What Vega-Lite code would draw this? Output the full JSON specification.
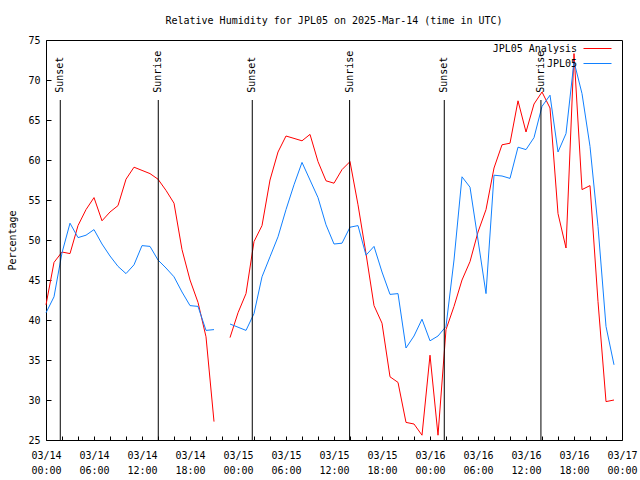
{
  "$schema": "https://vega.github.io/schema/vega-lite/v6.json",
  "width": 576,
  "height": 400,
  "autosize": {"type": "none"},
  "padding": {"left": 46, "top": 40, "right": 18, "bottom": 40},
  "background": "white",
  "config": {
    "font": "DejaVu Sans Mono",
    "view": {"stroke": "black", "strokeWidth": 1},
    "axis": {
      "labelFont": "DejaVu Sans Mono", "labelFontSize": 10, "labelColor": "black",
      "titleFont": "DejaVu Sans Mono", "titleFontSize": 10, "titleFontWeight": "normal", "titleColor": "black",
      "domain": false, "grid": false, "tickColor": "black", "tickWidth": 1, "labelOverlap": false
    }
  },
  "title": {"text": "Relative Humidity for JPL05 on 2025-Mar-14 (time in UTC)", "font": "DejaVu Sans Mono", "fontSize": 10, "fontWeight": "normal", "color": "black", "offset": 9},
  "datasets": {
    "hum": [
      {"t": "2025-03-14T00:00:00Z", "a": 41.9, "o": 40.9},
      {"t": "2025-03-14T01:00:00Z", "a": 47.2, "o": 42.9},
      {"t": "2025-03-14T02:00:00Z", "a": 48.5, "o": 48.4},
      {"t": "2025-03-14T03:00:00Z", "a": 48.3, "o": 52.1},
      {"t": "2025-03-14T04:00:00Z", "a": 51.8, "o": 50.3},
      {"t": "2025-03-14T05:00:00Z", "a": 53.8, "o": 50.6},
      {"t": "2025-03-14T06:00:00Z", "a": 55.3, "o": 51.3},
      {"t": "2025-03-14T07:00:00Z", "a": 52.4, "o": 49.5},
      {"t": "2025-03-14T08:00:00Z", "a": 53.5, "o": 48.0},
      {"t": "2025-03-14T09:00:00Z", "a": 54.3, "o": 46.7},
      {"t": "2025-03-14T10:00:00Z", "a": 57.6, "o": 45.8},
      {"t": "2025-03-14T11:00:00Z", "a": 59.1, "o": 46.9},
      {"t": "2025-03-14T12:00:00Z", "a": 58.7, "o": 49.3},
      {"t": "2025-03-14T13:00:00Z", "a": 58.3, "o": 49.2},
      {"t": "2025-03-14T14:00:00Z", "a": 57.6, "o": 47.5},
      {"t": "2025-03-14T15:00:00Z", "a": 56.2, "o": 46.5},
      {"t": "2025-03-14T16:00:00Z", "a": 54.6, "o": 45.4},
      {"t": "2025-03-14T17:00:00Z", "a": 48.8, "o": 43.5},
      {"t": "2025-03-14T18:00:00Z", "a": 45.0, "o": 41.8},
      {"t": "2025-03-14T19:00:00Z", "a": 42.2, "o": 41.7},
      {"t": "2025-03-14T20:00:00Z", "a": 37.9, "o": 38.7},
      {"t": "2025-03-14T21:00:00Z", "a": 27.3, "o": 38.8},
      {"t": "2025-03-14T22:00:00Z", "a": null, "o": null},
      {"t": "2025-03-14T23:00:00Z", "a": 37.8, "o": 39.5},
      {"t": "2025-03-15T00:00:00Z", "a": 40.9, "o": 39.1},
      {"t": "2025-03-15T01:00:00Z", "a": 43.3, "o": 38.7},
      {"t": "2025-03-15T02:00:00Z", "a": 49.8, "o": 40.8},
      {"t": "2025-03-15T03:00:00Z", "a": 51.8, "o": 45.4},
      {"t": "2025-03-15T04:00:00Z", "a": 57.5, "o": 47.9},
      {"t": "2025-03-15T05:00:00Z", "a": 61.0, "o": 50.4},
      {"t": "2025-03-15T06:00:00Z", "a": 63.0, "o": 53.8},
      {"t": "2025-03-15T07:00:00Z", "a": 62.7, "o": 56.9},
      {"t": "2025-03-15T08:00:00Z", "a": 62.4, "o": 59.7},
      {"t": "2025-03-15T09:00:00Z", "a": 63.2, "o": 57.5},
      {"t": "2025-03-15T10:00:00Z", "a": 59.8, "o": 55.3},
      {"t": "2025-03-15T11:00:00Z", "a": 57.4, "o": 51.9},
      {"t": "2025-03-15T12:00:00Z", "a": 57.1, "o": 49.5},
      {"t": "2025-03-15T13:00:00Z", "a": 58.8, "o": 49.6},
      {"t": "2025-03-15T14:00:00Z", "a": 59.8, "o": 51.6},
      {"t": "2025-03-15T15:00:00Z", "a": 54.4, "o": 51.8},
      {"t": "2025-03-15T16:00:00Z", "a": 48.3, "o": 48.1},
      {"t": "2025-03-15T17:00:00Z", "a": 41.8, "o": 49.2},
      {"t": "2025-03-15T18:00:00Z", "a": 39.6, "o": 46.0},
      {"t": "2025-03-15T19:00:00Z", "a": 32.9, "o": 43.2},
      {"t": "2025-03-15T20:00:00Z", "a": 32.2, "o": 43.3},
      {"t": "2025-03-15T21:00:00Z", "a": 27.2, "o": 36.5},
      {"t": "2025-03-15T22:00:00Z", "a": 27.0, "o": 38.0},
      {"t": "2025-03-15T23:00:00Z", "a": 25.6, "o": 40.1},
      {"t": "2025-03-16T00:00:00Z", "a": 35.6, "o": 37.4},
      {"t": "2025-03-16T01:00:00Z", "a": 25.6, "o": 38.0},
      {"t": "2025-03-16T02:00:00Z", "a": 38.8, "o": 39.2},
      {"t": "2025-03-16T03:00:00Z", "a": 41.7, "o": 47.5},
      {"t": "2025-03-16T04:00:00Z", "a": 45.0, "o": 57.9},
      {"t": "2025-03-16T05:00:00Z", "a": 47.3, "o": 56.6},
      {"t": "2025-03-16T06:00:00Z", "a": 51.0, "o": 50.0},
      {"t": "2025-03-16T07:00:00Z", "a": 53.8, "o": 43.3},
      {"t": "2025-03-16T08:00:00Z", "a": 59.0, "o": 58.1},
      {"t": "2025-03-16T09:00:00Z", "a": 61.9, "o": 58.0},
      {"t": "2025-03-16T10:00:00Z", "a": 62.1, "o": 57.7},
      {"t": "2025-03-16T11:00:00Z", "a": 67.4, "o": 61.6},
      {"t": "2025-03-16T12:00:00Z", "a": 63.5, "o": 61.3},
      {"t": "2025-03-16T13:00:00Z", "a": 67.0, "o": 62.8},
      {"t": "2025-03-16T14:00:00Z", "a": 68.5, "o": 66.7},
      {"t": "2025-03-16T15:00:00Z", "a": 66.5, "o": 68.1},
      {"t": "2025-03-16T16:00:00Z", "a": 53.3, "o": 61.0},
      {"t": "2025-03-16T17:00:00Z", "a": 49.0, "o": 63.3},
      {"t": "2025-03-16T18:00:00Z", "a": 73.3, "o": 72.3},
      {"t": "2025-03-16T19:00:00Z", "a": 56.3, "o": 68.3},
      {"t": "2025-03-16T20:00:00Z", "a": 56.8, "o": 61.7},
      {"t": "2025-03-16T21:00:00Z", "a": 42.3, "o": 51.7},
      {"t": "2025-03-16T22:00:00Z", "a": 29.8, "o": 39.2},
      {"t": "2025-03-16T23:00:00Z", "a": 30.0, "o": 34.4}
    ],
    "sun": [
      {"t": "2025-03-14T01:47:00Z", "label": "Sunset"},
      {"t": "2025-03-14T14:02:00Z", "label": "Sunrise"},
      {"t": "2025-03-15T01:47:00Z", "label": "Sunset"},
      {"t": "2025-03-15T13:57:00Z", "label": "Sunrise"},
      {"t": "2025-03-16T01:47:00Z", "label": "Sunset"},
      {"t": "2025-03-16T13:52:00Z", "label": "Sunrise"}
    ]
  },
  "encoding": {
    "x": {
      "field": "t", "type": "temporal",
      "scale": {"type": "utc", "domain": [1741910400000, 1742169600000], "nice": false},
      "axis": {
        "title": null,
        "values": [1741910400000, 1741917600000, 1741924800000, 1741932000000, 1741939200000, 1741946400000, 1741953600000, 1741960800000, 1741968000000, 1741975200000, 1741982400000, 1741989600000, 1741996800000, 1742004000000, 1742011200000, 1742018400000, 1742025600000, 1742032800000, 1742040000000, 1742047200000, 1742054400000, 1742061600000, 1742068800000, 1742076000000, 1742083200000, 1742090400000, 1742097600000, 1742104800000, 1742112000000, 1742119200000, 1742126400000, 1742133600000, 1742140800000, 1742148000000, 1742155200000, 1742162400000, 1742169600000],
        "tickSize": -4, "labelPadding": 14, "labelOverlap": false, "labelFlush": false, "labelBound": false,
        "labelLineHeight": 15,
        "labelExpr": "utchours(datum.value) % 6 == 0 ? [utcFormat(datum.value, '%m/%d'), utcFormat(datum.value, '%H:%M')] : ''"
      }
    }
  },
  "layer": [
    {
      "data": {"name": "hum"},
      "transform": [
        {"fold": ["a", "o"], "as": ["key", "value"]},
        {"lookup": "key", "from": {"data": {"values": [{"key": "a", "series": "JPL05 Analysis"}, {"key": "o", "series": "JPL05"}]}, "key": "key", "fields": ["series"]}}
      ],
      "mark": {"type": "line", "strokeWidth": 1},
      "encoding": {
        "y": {
          "field": "value", "type": "quantitative",
          "scale": {"domain": [25, 75], "nice": false, "zero": false},
          "axis": {
            "title": "Percentage",
            "values": [25, 30, 35, 40, 45, 50, 55, 60, 65, 70, 75],
            "tickSize": -5, "labelPadding": 11, "titlePadding": 10, "labelOverlap": false
          }
        },
        "color": {
          "field": "series", "type": "nominal",
          "scale": {"domain": ["JPL05 Analysis", "JPL05"], "range": ["#ff0000", "#1080ff"]},
          "legend": {
            "title": null, "orient": "none", "legendX": 544, "legendY": 1,
            "padding": 0, "symbolType": "M-2,0H2", "symbolSize": 196, "symbolStrokeWidth": 1,
            "labelFont": "DejaVu Sans Mono", "labelFontSize": 10, "labelColor": "black",
            "labelAlign": "right", "labelOffset": -28, "rowPadding": 2
          }
        }
      }
    },
    {
      "data": {"name": "sun"},
      "mark": {"type": "rule", "color": "black", "strokeWidth": 1},
      "encoding": {
        "y": {
          "datum": 67.5, "type": "quantitative",
          "axis": {
            "title": "Percentage",
            "values": [25, 30, 35, 40, 45, 50, 55, 60, 65, 70, 75],
            "tickSize": -5, "labelPadding": 11, "titlePadding": 10, "labelOverlap": false
          }
        },
        "y2": {"datum": 25}
      }
    },
    {
      "data": {"name": "sun"},
      "mark": {"type": "text", "angle": 270, "align": "left", "baseline": "middle", "font": "DejaVu Sans Mono", "fontSize": 10, "color": "black"},
      "encoding": {
        "y": {
          "datum": 68.4, "type": "quantitative",
          "axis": {
            "title": "Percentage",
            "values": [25, 30, 35, 40, 45, 50, 55, 60, 65, 70, 75],
            "tickSize": -5, "labelPadding": 11, "titlePadding": 10, "labelOverlap": false
          }
        },
        "text": {"field": "label"}
      }
    }
  ]
}
